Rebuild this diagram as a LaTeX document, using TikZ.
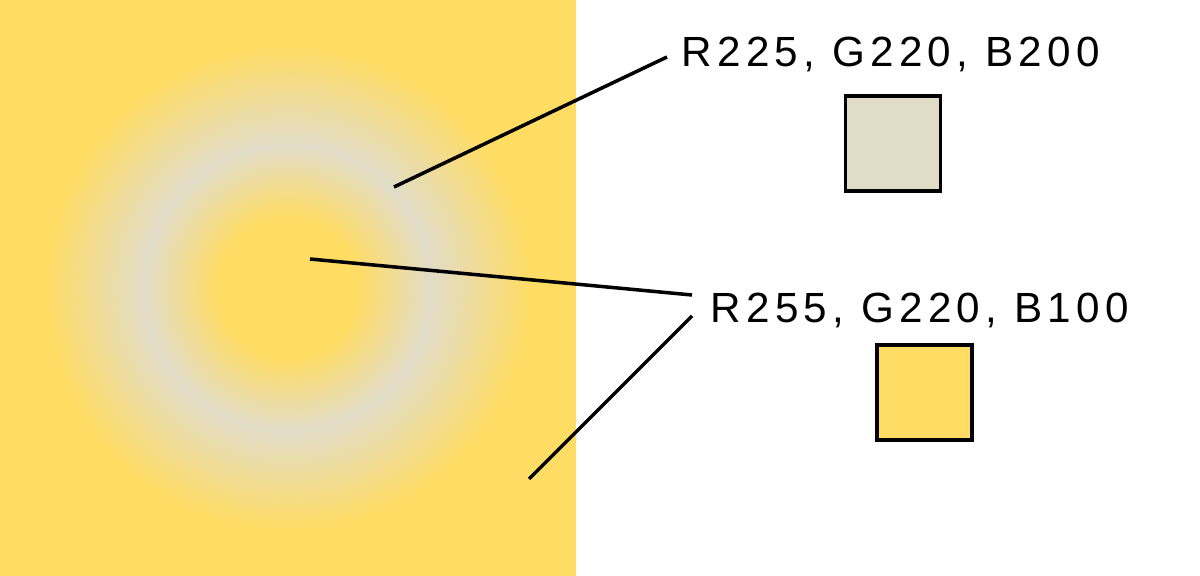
\documentclass[tikz,border=0pt]{standalone}
\usepackage{fontspec}
\newfontfamily\labelfont[LetterSpace=12.5]{Liberation Sans}
\usetikzlibrary{positioning}
\definecolor{sunny}{RGB}{255,220,100}
\definecolor{stone}{RGB}{225,220,200}
\pgfdeclareradialshading{halo}{\pgfpointorigin}{%
  color(0bp)=(sunny); color(7bp)=(sunny); color(14.3bp)=(stone);
  color(24.2bp)=(sunny); color(50bp)=(sunny)}

\begin{document}
\begin{tikzpicture}[
    x=0.01cm, y=-0.01cm,
    font=\labelfont\fontsize{12}{14}\selectfont,
    swatch/.style={
		rectangle,
		draw=black,
		line width=1pt,
		minimum size=0.95cm,
		inner sep=0pt
	},
	leader/.style={
		draw=black,
		line width=1pt
	},
	rgblabel/.style={
		inner sep=0pt,
		anchor=base west
	}
  ]

 \useasboundingbox (0,0) rectangle (1200,576);
 \fill [white] (0,0) rectangle (1200,576);

% // The patch
 \fill [sunny] (0,0) rectangle (576,576);
 \shade [shading=halo] (288,288) circle [radius=2.5cm];

% // The labels
 \node [rgblabel] (grey) at (681,67) {R225, G220, B200};
 \node [swatch, fill=stone] (greybox) at (893,143.5) {};

 \node [rgblabel] (yellow) at (710,322) {R255, G220, B100};
 \node [swatch, fill=sunny] (yellowbox) at (924.5,392.5) {};

% // pointers
 \coordinate (ring) at (394,187);
 \coordinate (centre) at (310,259);
 \coordinate (outside) at (529,479);
 \coordinate (greytip) at (667,57);
 \coordinate (yellowtip1) at (692,295);
 \coordinate (yellowtip2) at (692,316);

 \draw [leader] (ring) -- (greytip);
 \draw [leader] (centre) -- (yellowtip1);
 \draw [leader] (outside) -- (yellowtip2);

\end{tikzpicture}
\end{document}
